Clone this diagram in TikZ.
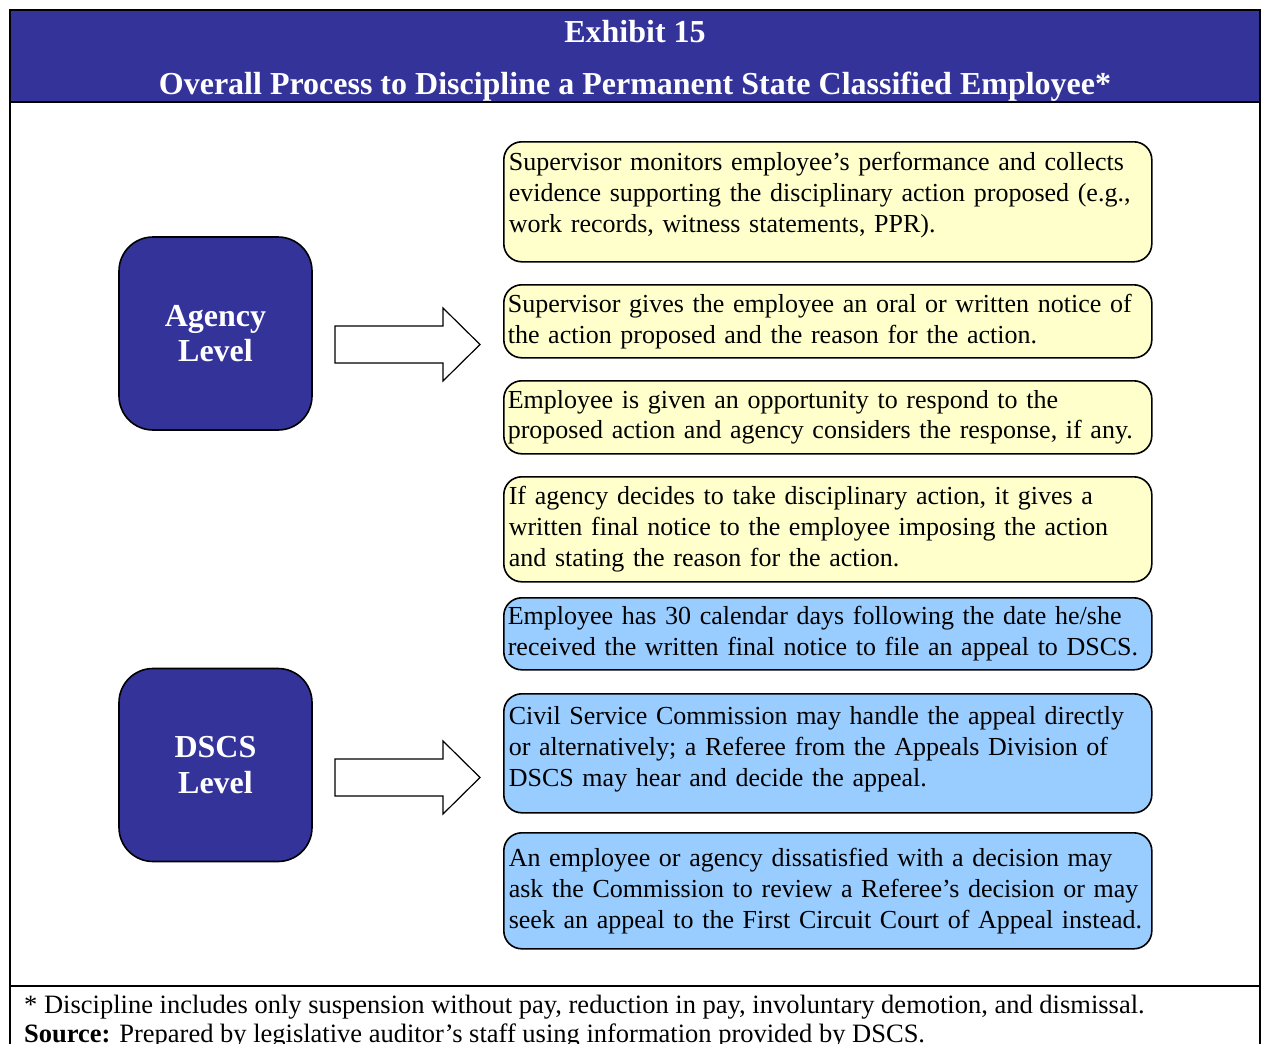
\documentclass[tikz,border=0pt]{standalone}
\usepackage{fontspec}
\setmainfont{Liberation Serif}
\usetikzlibrary{positioning}

\definecolor{exhibitblue}{RGB}{52,51,153}
\definecolor{noteyellow}{RGB}{255,255,204}
\definecolor{notesky}{RGB}{153,204,255}

\tikzset{
	levelbox/.style={draw=black, line width=1.6pt, fill=exhibitblue, rounded corners=34pt,
		minimum width=193pt, minimum height=193pt, text=white, align=center,
		font=\fontsize{32}{35.5}\selectfont\bfseries},
	notebox/.style={draw=black, line width=1.6pt, rounded corners=18pt, anchor=north west,
		text width=638pt, inner xsep=5pt, inner ysep=2pt, align=left,
		font=\fontsize{26}{30.9}\selectfont},
	blockarrow/.style={draw=black, line width=1.2pt, fill=white},
	titletext/.style={text=white, font=\fontsize{32}{36}\selectfont\bfseries},
	foottext/.style={anchor=west, inner sep=0pt, font=\fontsize{26.5}{29}\selectfont}
}

\begin{document}
\begin{tikzpicture}[x=1pt, y=-1pt]
	\useasboundingbox (0,0) rectangle (1261,1044);
	
	% FRAME AND TITLE
	\fill[exhibitblue] (10,10) rectangle (1260,102);
	\draw[line width=2pt] (10,1060)--(10,10)--(1260,10)--(1260,1060);
	\draw[line width=2pt] (10,102)--(1260,102);
	\draw[line width=2pt] (10,986)--(1260,986);
	\node[titletext] (t1) at (635,32) {Exhibit 15};
	\node[titletext] (t2) at (635,87) {Overall Process to Discipline a Permanent State Classified Employee*};
	
	% LEVELS
	\node[levelbox] (agency) at (215.5,333.5) {Agency\\Level};
	\node[levelbox] (dscs) at (215.5,765) {DSCS\\Level};
	
	% ARROWS
	\draw[blockarrow] (335,326)--(443,326)--(443,308)--(480,344.5)--(443,381)--(443,363)--(335,363)--cycle;
	\draw[blockarrow] (335,759)--(443,759)--(443,741)--(480,777.5)--(443,814)--(443,796)--(335,796)--cycle;
	
	% AGENCY STEPS
	\node[notebox, fill=noteyellow, minimum height=120pt] (s1) at (503,141)
		{Supervisor monitors employee’s performance and collects\\evidence supporting the disciplinary action proposed (e.g.,\\work records, witness statements, PPR).\\[-21pt]\strut};
	\node[notebox, fill=noteyellow, minimum height=73pt, inner xsep=4pt, text width=640pt] (s2) at (503,284)
		{Supervisor gives the employee an oral or written notice of\\the action proposed and the reason for the action.};
	\node[notebox, fill=noteyellow, minimum height=73pt, inner xsep=4pt, text width=640pt] (s3) at (503,380)
		{Employee is given an opportunity to respond to the\\proposed action and agency considers the response, if any.};
	\node[notebox, fill=noteyellow, minimum height=105pt] (s4) at (503,476)
		{If agency decides to take disciplinary action, it gives a\\written final notice to the employee imposing the action\\and stating the reason for the action.};
	
	% DSCS STEPS
	\node[notebox, fill=notesky, minimum height=72pt, inner xsep=4pt, text width=640pt] (s5) at (503,597)
		{Employee has 30 calendar days following the date he/she\\received the written final notice to file an appeal to DSCS.};
	\node[notebox, fill=notesky, minimum height=119pt] (s6) at (503,693)
		{Civil Service Commission may handle the appeal directly\\or alternatively; a Referee from the Appeals Division of\\DSCS may hear and decide the appeal.\\[-27pt]\strut};
	\node[notebox, fill=notesky, minimum height=116pt] (s7) at (503,832)
		{An employee or agency dissatisfied with a decision may\\ask the Commission to review a Referee’s decision or may\\seek an appeal to the First Circuit Court of Appeal instead.};
	
	% FOOTNOTES
	\node[foottext] (f1) at (24,1007) {* Discipline includes only suspension without pay, reduction in pay, involuntary demotion, and dismissal.};
	\node[foottext] (f2) at (24,1036) {\textbf{Source:} Prepared by legislative auditor’s staff using information provided by DSCS.};
\end{tikzpicture}
\end{document}
